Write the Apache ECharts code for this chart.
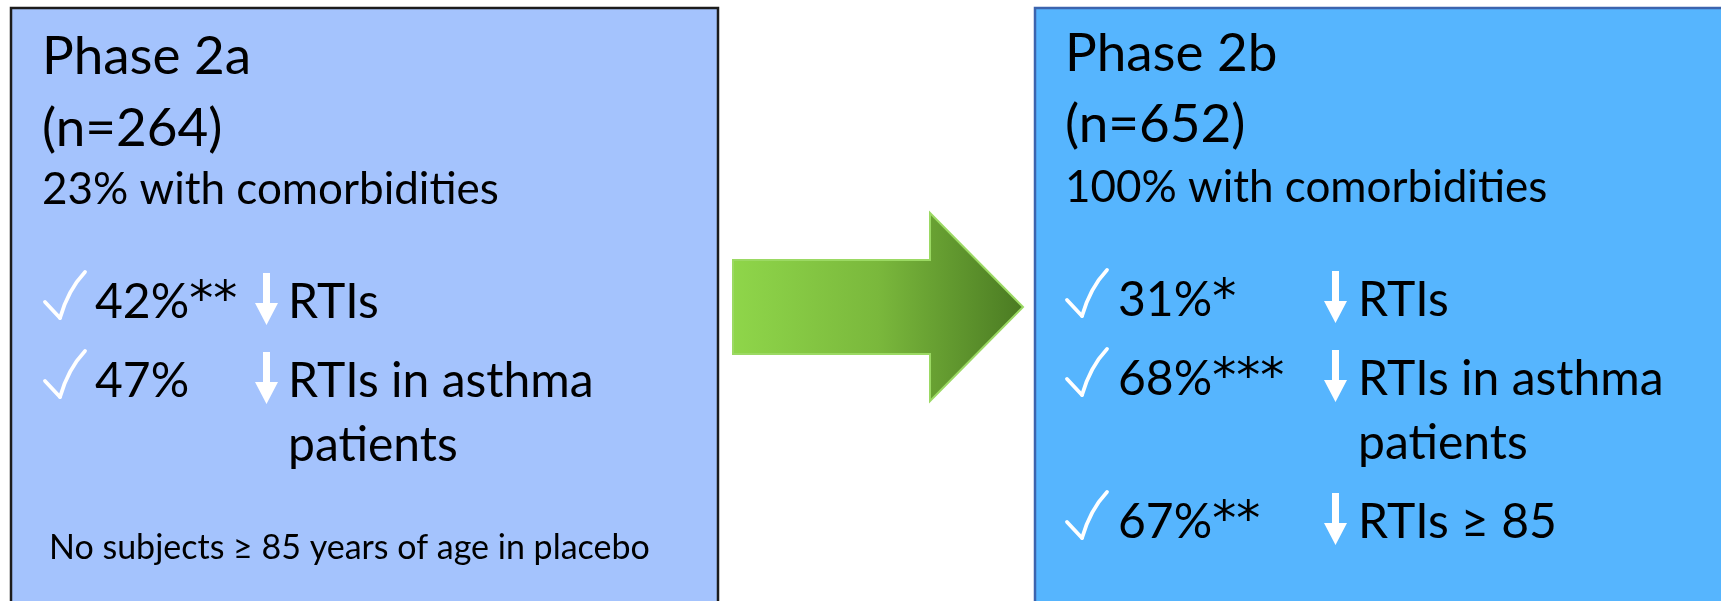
<!DOCTYPE html>
<html>
<head>
<meta charset="utf-8">
<title>Phase 2a vs Phase 2b</title>
<script src="https://cdn.jsdelivr.net/npm/echarts@6/dist/echarts.min.js"></script>
<style>
  html, body { margin: 0; padding: 0; background: #fff; }
  #main { width: 1721px; height: 601px; }
</style>
</head>
<body>
<div id="main"></div>
<script>
'use strict';

// data
var phases = ['Phase 2a', 'Phase 2b'];
var sampleSizes = [264, 652];
var comorbidityPct = [23, 100];
var reductionPct = [[42, 47], [31, 68, 67]];
var significance = [['**', ''], ['*', '***', '**']];
var outcomes = [
    ['RTIs', 'RTIs in asthma\npatients'],
    ['RTIs', 'RTIs in asthma\npatients', 'RTIs \u2265 85']
];
var footnotes = ['No subjects \u2265 85 years of age in placebo', ''];

// layout (pixels)
var boxX = [11, 1035];
var boxW = [707, 700];
var boxFill = ['#a4c3fd', '#56b5fe'];
var boxStroke = ['#1c1c1c', '#3c64ae'];
var textX = [42, 1065];
var titleBase = [74, 71];
var nBase = [146, 142];
var comorbBase = [204, 202];
var rowBase = [[318, 397], [316, 395, 538]];
var checkX = [43, 1065];
var valueX = [95, 1118];
var arrowX = [255, 1324];
var outcomeX = [288, 1358];
var noteX = 49, noteBase = 559;

var FONT = 'Lato, "Open Sans", sans-serif';

// place text so that its first line sits on the given baseline
function txt(str, x, base, size, lh) {
    lh = lh || Math.round(size * 1.36);
    return {
        type: 'text',
        x: x,
        y: base - 0.32 * size - lh / 2,
        style: {
            text: str,
            fill: '#000',
            fontSize: size,
            fontFamily: FONT,
            lineHeight: lh,
            verticalAlign: 'top',
            align: 'left',
            rich: {
                s: { fontFamily: '"DejaVu Sans", sans-serif', fontSize: size, lineHeight: lh, fill: '#000' }
            }
        }
    };
}

function check(x, base) {
    // thin white tick: short stroke down, long curved stroke up
    var t = base - 46;
    var st = { stroke: '#fff', lineWidth: 3.8, fill: null, lineCap: 'round' };
    return [{
        type: 'line',
        shape: { x1: x + 2, y1: t + 30, x2: x + 17, y2: t + 46 },
        style: st
    }, {
        type: 'bezierCurve',
        shape: { x1: x + 17, y1: t + 46, x2: x + 42, y2: t, cpx1: x + 25, cpy1: t + 18 },
        style: st
    }];
}

function downArrow(x, base) {
    var top = base - 45, bot = base + 7, w = 23, sw = 7, hh = 22;
    var cx = x + w / 2;
    return {
        type: 'polygon',
        shape: {
            points: [
                [cx - sw / 2, top], [cx + sw / 2, top], [cx + sw / 2, bot - hh],
                [x + w, bot - hh], [cx, bot], [x, bot - hh], [cx - sw / 2, bot - hh]
            ]
        },
        style: { fill: '#fff' }
    };
}

var els = [];

phases.forEach(function (ph, i) {
    els.push({
        type: 'rect',
        shape: { x: boxX[i], y: 8, width: boxW[i], height: 620 },
        style: { fill: boxFill[i], stroke: boxStroke[i], lineWidth: 2.5 }
    });
    els.push(txt(ph, textX[i], titleBase[i], 53));
    els.push(txt('(n=' + sampleSizes[i] + ')', textX[i], nBase[i], 53));
    els.push(txt(comorbidityPct[i] + '% with comorbidities', textX[i], comorbBase[i], 44));

    reductionPct[i].forEach(function (v, j) {
        var b = rowBase[i][j];
        var stars = significance[i][j] ? '{s|' + significance[i][j] + '}' : '';
        els = els.concat(check(checkX[i], b));
        els.push(txt(v + '%' + stars, valueX[i], b, 48, 64));
        els.push(downArrow(arrowX[i], b));
        els.push(txt(outcomes[i][j], outcomeX[i], b, 48, 64));
    });

    if (footnotes[i]) {
        els.push(txt(footnotes[i], noteX, noteBase, 34));
    }
});

// big green arrow between the two phases
els.push({
    type: 'polygon',
    shape: {
        points: [[733, 260], [930, 260], [930, 213], [1023, 307], [930, 401], [930, 354], [733, 354]]
    },
    style: {
        fill: new echarts.graphic.LinearGradient(0, 0, 1, 0, [
            { offset: 0, color: '#8fd64a' },
            { offset: 0.5, color: '#7ab83c' },
            { offset: 1, color: '#4a7a22' }
        ]),
        stroke: '#9bd963',
        lineWidth: 2
    }
});

var myChart = echarts.init(document.getElementById('main'));
myChart.setOption({
    backgroundColor: '#fff',
    animation: false,
    graphic: els
});
</script>
</body>
</html>
